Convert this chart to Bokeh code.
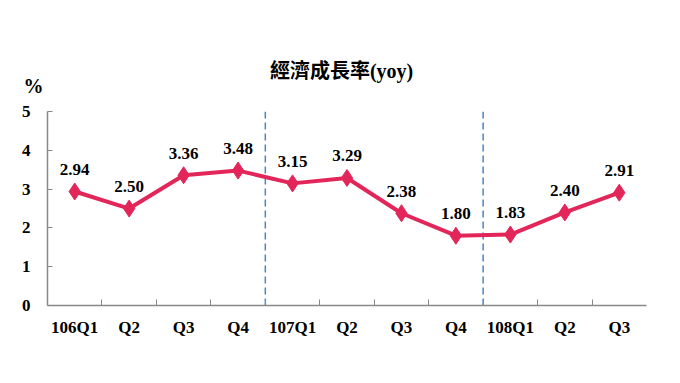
from bokeh.plotting import figure
from bokeh.models import Range1d, FixedTicker, LinearAxis, ColumnDataSource, CustomJSTickFormatter
from bokeh.core.properties import value
from bokeh.embed import file_html
from bokeh.resources import INLINE

quarters = ["106Q1", "Q2", "Q3", "Q4", "107Q1", "Q2", "Q3", "Q4", "108Q1", "Q2", "Q3"]
growth = [2.94, 2.50, 3.36, 3.48, 3.15, 3.29, 2.38, 1.80, 1.83, 2.40, 2.91]
y_ticks = [0, 1, 2, 3, 4, 5]
title_text = "經濟成長率(yoy)"
unit_text = "%"

n = len(quarters)
xs = list(range(n))
y_max = max(y_ticks)
LINE = "#E3265A"
SERIF = "Liberation Serif"
GRAY = "#888888"

p = figure(width=672, height=375, output_backend="svg", toolbar_location=None,
           x_range=Range1d(-0.5, n - 0.5), y_range=Range1d(0, 6.5),
           min_border_left=47, min_border_right=26, min_border_top=53, min_border_bottom=70)
p.outline_line_color = None
p.xgrid.visible = False
p.ygrid.visible = False
p.background_fill_color = "white"

# x axis
p.xaxis.ticker = FixedTicker(ticks=xs, minor_ticks=[i + 0.5 for i in range(n - 1)])
p.xaxis.major_label_overrides = {i: q for i, q in enumerate(quarters)}
p.xaxis.major_tick_in = 0
p.xaxis.major_tick_out = 0
p.xaxis.minor_tick_in = 6
p.xaxis.minor_tick_out = 0
p.xaxis.minor_tick_line_color = GRAY
p.xaxis.axis_line_color = GRAY
p.xaxis.axis_line_width = 1.5
p.xaxis.major_label_text_font = SERIF
p.xaxis.major_label_text_font_style = "bold"
p.xaxis.major_label_text_font_size = "17px"
p.xaxis.major_label_text_color = "black"
p.xaxis.major_label_standoff = 12

# y axis (numeric, bounded to 0..5)
p.yaxis.ticker = FixedTicker(ticks=y_ticks, minor_ticks=[])
p.yaxis.bounds = (min(y_ticks), y_max)
p.yaxis.major_tick_in = 5
p.yaxis.major_tick_out = 0
p.yaxis.major_tick_line_color = GRAY
p.yaxis.axis_line_color = GRAY
p.yaxis.axis_line_width = 1.5
p.yaxis.major_label_text_font = SERIF
p.yaxis.major_label_text_font_style = "bold"
p.yaxis.major_label_text_font_size = "17px"
p.yaxis.major_label_text_color = "black"
p.yaxis.major_label_standoff = 17

# unit label as an outer axis with a single labelled tick
unit_axis = LinearAxis(ticker=FixedTicker(ticks=[5.67], minor_ticks=[]),
                       formatter=CustomJSTickFormatter(code=f"return '{unit_text}'"),
                       axis_line_color=None, major_tick_line_color=None, minor_tick_line_color=None,
                       major_label_standoff=-31, major_label_text_font=SERIF,
                       major_label_text_font_style="bold", major_label_text_font_size="20px",
                       major_label_text_color="black")
p.add_layout(unit_axis, "left")

# year separators
sep_x = [i - 0.5 for i, q in enumerate(quarters) if i > 0 and len(q) > 2]
p.segment(x0=sep_x, y0=[0] * len(sep_x), x1=sep_x, y1=[y_max] * len(sep_x),
          line_color="#4A84C4", line_dash="7 4", line_width=1.5)

src = ColumnDataSource(dict(x=xs, y=growth, t=[f"{v:.2f}" for v in growth]))
p.line("x", "y", source=src, line_color=LINE, line_width=4)
p.scatter("x", "y", source=src, marker="diamond", size=17, fill_color=LINE, line_color=LINE)
p.text("x", "y", text="t", source=src, y_offset=-22, text_align="center", text_baseline="middle",
       text_font=value(SERIF), text_font_style="bold", text_font_size="17px", text_color="black")

# chart title
p.text(x=[(n - 1) / 2 - 0.1], y=[6.06], text=[title_text], text_align="center",
       text_baseline="middle", text_font=value("Liberation Serif, Noto Sans CJK TC"),
       text_font_style="bold", text_font_size="20px", text_color="black")

open("out.html", "w").write(file_html(p, INLINE))
